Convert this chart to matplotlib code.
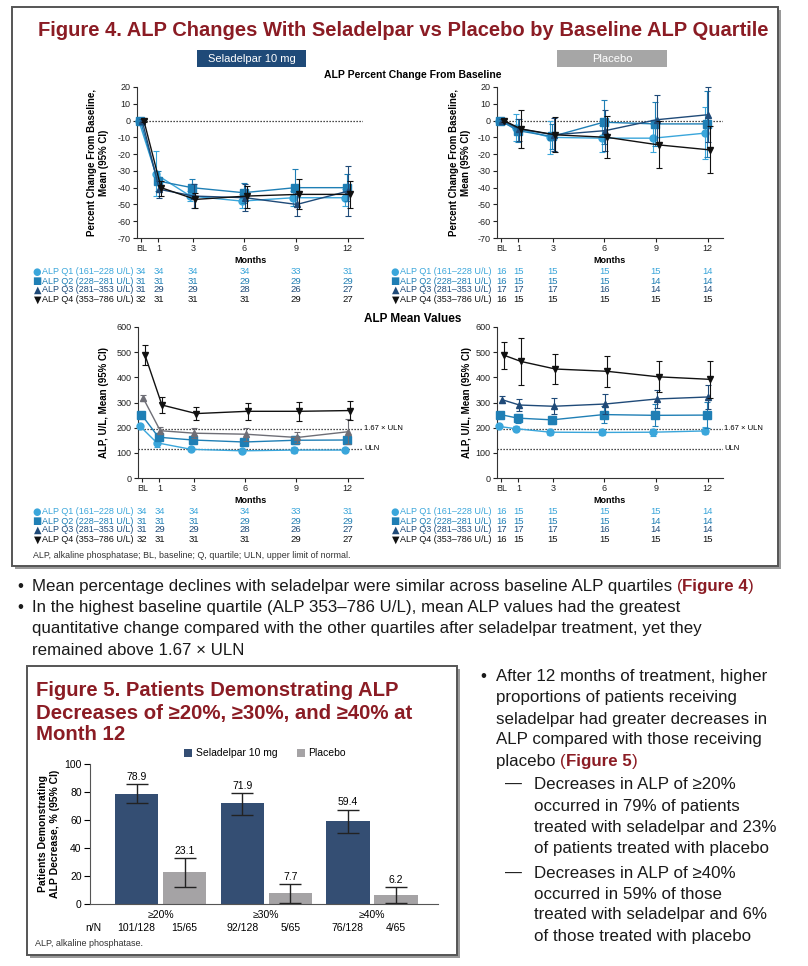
import numpy as np
import matplotlib
matplotlib.use('Agg')
import matplotlib.pyplot as plt
import matplotlib.transforms as mtrans
from matplotlib import font_manager
from matplotlib.patches import Rectangle

plt.rcParams['font.family'] = ['Liberation Sans', 'DejaVu Sans']
plt.rcParams['axes.unicode_minus'] = False

# ---------------- data ----------------
months = [0, 1, 3, 6, 9, 12]
month_labels = ['BL', '1', '3', '6', '9', '12']
quartiles = ['ALP Q1 (161–228 U/L)', 'ALP Q2 (228–281 U/L)',
             'ALP Q3 (281–353 U/L)', 'ALP Q4 (353–786 U/L)']
uln = 117

# seladelpar, percent change from baseline (mean, lower CI, upper CI)
sel_pct_mean = [[0, -32, -45, -48, -46, -46],
                [0, -36, -40, -43, -40, -40],
                [0, -41, -45, -46, -50, -42],
                [0, -40, -47, -45, -44, -44]]
sel_pct_lo = [[-1, -45, -48, -52, -51, -51],
              [-1, -42, -45, -49, -51, -48],
              [-1, -46, -52, -54, -57, -57],
              [-1, -45, -52, -52, -53, -52]]
sel_pct_hi = [[1, -18, -42, -44, -42, -41],
              [1, -30, -35, -37, -29, -32],
              [1, -36, -38, -38, -43, -27],
              [1, -36, -43, -39, -35, -36]]

# placebo, percent change from baseline
pbo_pct_mean = [[0, -4.5, -10, -10.5, -10.5, -7.5],
                [0, -6, -9.5, -1, -2, -2],
                [0, -5, -8.5, -6, 0.5, 3.5],
                [0, -5, -8.5, -10, -14.5, -17.5]]
pbo_pct_lo = [[-1, -12, -20, -18.5, -19, -23],
              [-1, -13, -17, -14, -15, -21.5],
              [-1, -12, -18, -18, -14, -13],
              [-1, -16.5, -19, -22.5, -28.5, -31.5]]
pbo_pct_hi = [[1, 4, 0, -2.5, -2, 8],
              [1, 1, -2, 12, 11, 17.5],
              [1, 1, 1.5, 6, 15, 20],
              [1, 6.5, 2, 2.5, 0, -3.5]]

# seladelpar, mean ALP (U/L)
sel_alp_mean = [[207, 140, 114, 108, 111, 111],
                [252, 162, 151, 143, 150, 151],
                [318, 188, 178, 174, 161, 184],
                [490, 290, 256, 265, 265, 268]]
sel_alp_lo = [[200, 125, 108, 103, 100, 102],
              [240, 152, 140, 130, 135, 138],
              [305, 175, 158, 148, 140, 134],
              [450, 258, 230, 230, 228, 230]]
sel_alp_hi = [[214, 155, 120, 113, 122, 120],
              [264, 172, 162, 156, 165, 164],
              [331, 201, 198, 200, 182, 234],
              [530, 322, 282, 300, 302, 306]]

# placebo, mean ALP (U/L)
pbo_alp_mean = [[205, 196, 182, 181, 182, 187],
                [252, 238, 231, 252, 249, 250],
                [311, 290, 285, 294, 314, 322],
                [488, 463, 433, 424, 402, 392]]
pbo_alp_lo = [[198, 186, 170, 170, 168, 173],
              [243, 220, 215, 218, 205, 198],
              [297, 267, 254, 254, 280, 276],
              [435, 370, 374, 362, 340, 316]]
pbo_alp_hi = [[212, 206, 194, 192, 196, 201],
              [261, 256, 247, 286, 293, 302],
              [325, 313, 316, 334, 348, 368],
              [541, 556, 492, 486, 464, 466]]

sel_n = [[34, 34, 34, 34, 33, 31],
         [31, 31, 31, 29, 29, 29],
         [31, 29, 29, 28, 26, 27],
         [32, 31, 31, 31, 29, 27]]
pbo_n = [[16, 15, 15, 15, 15, 14],
         [16, 15, 15, 15, 14, 14],
         [17, 17, 17, 16, 14, 14],
         [16, 15, 15, 15, 15, 15]]

# figure 5
thresholds = ['≥20%', '≥30%', '≥40%']
sel_resp = [78.9, 71.9, 59.4]
sel_resp_lo = [72, 63.5, 50.5]
sel_resp_hi = [86, 79.5, 67.5]
pbo_resp = [23.1, 7.7, 6.2]
pbo_resp_lo = [12.5, 1, 0.5]
pbo_resp_hi = [33, 14, 12]
sel_nN = ['101/128', '92/128', '76/128']
pbo_nN = ['15/65', '5/65', '4/65']

# ---------------- style ----------------
RED = '#8B1C24'
TXT = '#1a1a1a'
q_colors = ['#3AA6DB', '#1F7FB5', '#1F4A78', '#111111']
markers = ['o', 's', '^', 'v']
msizes = [5, 5.5, 5, 5]
syms = ['●', '■', '▲', '▼']
jitter = [-0.15, -0.05, 0.05, 0.15]

names = {f.name for f in font_manager.fontManager.ttflist}
narrow = 'Liberation Sans Narrow' if 'Liberation Sans Narrow' in names else 'Liberation Sans'

W, H = 808, 966
fig = plt.figure(figsize=(W / 100, H / 100), dpi=100)
bg = fig.add_axes([0, 0, 1, 1], zorder=0)
bg.set_xlim(0, W)
bg.set_ylim(H, 0)
bg.axis('off')
renderer = fig.canvas.get_renderer()


def px_axes(x0, y0, x1, y1):
    ax = fig.add_axes([x0 / W, 1 - y1 / H, (x1 - x0) / W, (y1 - y0) / H], zorder=2)
    ax.patch.set_alpha(0)
    return ax


def fit_text(x, y, s, width, size0=12, **kw):
    t = bg.text(x, y, s, fontsize=size0, **kw)
    w = t.get_window_extent(renderer).width
    t.set_fontsize(size0 * width / w)
    return t


def runs(x, y, parts, size):
    for s, color, weight in parts:
        t = bg.text(x, y, s, fontsize=size, color=color, fontweight=weight,
                    va='center_baseline')
        x += t.get_window_extent(renderer).width
    return x


def box(x0, y0, x1, y1):
    bg.add_patch(Rectangle((x0 + 3, y0 + 3), x1 - x0, y1 - y0, fc='#9a9a9a', ec='none'))
    bg.add_patch(Rectangle((x0, y0), x1 - x0, y1 - y0, fc='white', ec='#555555', lw=1.4))


def panel(rect, mean, lo, hi, colors, ylim, yticks, ylabel, ylabel_x):
    ax = px_axes(*rect)
    for i in range(4):
        m = np.array(mean[i], float)
        err = [m - np.array(lo[i]), np.array(hi[i]) - m]
        ax.errorbar(np.array(months) + jitter[i], m, yerr=err, color=colors[i],
                    marker=markers[i], ms=msizes[i], lw=1.0, elinewidth=0.8,
                    capsize=2, capthick=0.8, zorder=3 + i, clip_on=False)
    ax.set_xlim(-0.25, 12.9)
    ax.set_ylim(*ylim)
    ax.set_xticks(months)
    ax.set_xticklabels(month_labels)
    ax.set_yticks(yticks)
    for s in ['top', 'right']:
        ax.spines[s].set_visible(False)
    for s in ['left', 'bottom']:
        ax.spines[s].set_linewidth(0.8)
        ax.spines[s].set_color('#333333')
    ax.tick_params(labelsize=6.5, length=3, width=0.8, pad=1.5, colors='#222222')
    ax.set_xlabel('Months', fontsize=6.5, fontweight='bold', labelpad=2)
    bg.text(ylabel_x, (rect[1] + rect[3]) / 2, ylabel, rotation=90, ha='center',
            va='center', fontsize=7, fontweight='bold', linespacing=1.3,
            multialignment='center')
    return ax


def count_table(ax, counts, rows_y, label_right):
    tr = mtrans.blended_transform_factory(ax.transData, bg.transData)
    for i in range(4):
        t = bg.text(label_right, rows_y[i], quartiles[i], ha='right',
                    va='center', fontsize=6.5, color=q_colors[i])
        left = label_right - t.get_window_extent(renderer).width
        bg.text(left - 0.5, rows_y[i], syms[i], ha='right', va='center',
                fontsize=7, color=q_colors[i], family='DejaVu Sans')
        for m, c in zip(months, counts[i]):
            ax.text(m, rows_y[i], str(c), transform=tr, ha='center', va='center',
                    fontsize=6.8, color=q_colors[i], clip_on=False)


def ref_line(ax, y, label):
    ax.axhline(y, color='#111111', lw=0.9, ls=(0, (1, 1.4)), zorder=1)
    if label:
        tr = mtrans.blended_transform_factory(ax.transAxes, ax.transData)
        ax.text(1.005, y, label, transform=tr, fontsize=5.5, va='center',
                ha='left', clip_on=False)


# ---------------- Figure 4 ----------------
box(12, 7, 778, 566)
fit_text(403, 31, 'Figure 4. ALP Changes With Seladelpar vs Placebo by Baseline ALP Quartile',
         728, ha='center', va='center', color=RED, fontweight='bold', family=[narrow, 'DejaVu Sans'])

bg.add_patch(Rectangle((197, 50), 109, 17, fc='#1F4A78', ec='none'))
bg.text(251.5, 58.5, 'Seladelpar 10 mg', ha='center', va='center', color='white',
        fontsize=8)
bg.add_patch(Rectangle((557, 50), 110, 17, fc='#A6A6A6', ec='none'))
bg.text(612, 58.5, 'Placebo', ha='center', va='center', color='white',
        fontsize=8)

bg.text(413, 75, 'ALP Percent Change From Baseline', ha='center', va='center',
        fontsize=7.5, fontweight='bold')
bg.text(413, 319, 'ALP Mean Values', ha='center', va='center',
        fontsize=8.5, fontweight='bold')

pct_label = 'Percent Change From Baseline,\nMean (95% CI)'
alp_label = 'ALP, U/L, Mean (95% CI)'
pct_ticks = list(range(-70, 21, 10))
alp_ticks = list(range(0, 601, 100))

ax1 = panel((137, 87, 363, 238), sel_pct_mean, sel_pct_lo, sel_pct_hi, q_colors,
            (-70, 20), pct_ticks, pct_label, 98)
ref_line(ax1, 0, None)
count_table(ax1, sel_n, [272, 281, 290, 300], 133)

ax2 = panel((497, 87, 723, 238), pbo_pct_mean, pbo_pct_lo, pbo_pct_hi, q_colors,
            (-70, 20), pct_ticks, pct_label, 460)
ref_line(ax2, 0, None)
count_table(ax2, pbo_n, [272, 281, 290, 300], 491)

mid_colors = [q_colors[0], q_colors[1], '#6E6E76', q_colors[3]]
ax3 = panel((138, 327, 363, 478), sel_alp_mean, sel_alp_lo, sel_alp_hi, mid_colors,
            (0, 600), alp_ticks, alp_label, 104)
ref_line(ax3, 1.67 * uln, '1.67 × ULN')
ref_line(ax3, uln, 'ULN')
count_table(ax3, sel_n, [512, 521, 530, 540], 133)

ax4 = panel((497, 327, 723, 478), pbo_alp_mean, pbo_alp_lo, pbo_alp_hi, q_colors,
            (0, 600), alp_ticks, alp_label, 467)
ref_line(ax4, 1.67 * uln, '1.67 × ULN')
ref_line(ax4, uln, 'ULN')
count_table(ax4, pbo_n, [512, 521, 530, 540], 491)

fit_text(33, 556, 'ALP, alkaline phosphatase; BL, baseline; Q, quartile; ULN, upper limit of normal.',
         320, size0=6, va='center', color='#333333')

# ---------------- bullets ----------------
FS = 12.2
bg.text(17, 585, '•', fontsize=FS, va='center_baseline', color=TXT)
runs(32, 585, [('Mean percentage declines with seladelpar were similar across baseline ALP quartiles ', TXT, 'normal'),
               ('(', RED, 'normal'), ('Figure 4', RED, 'bold'), (')', RED, 'normal')], FS)
bg.text(17, 606, '•', fontsize=FS, va='center_baseline', color=TXT)
runs(32, 606, [('In the highest baseline quartile (ALP 353–786 U/L), mean ALP values had the greatest', TXT, 'normal')], FS)
runs(32, 627, [('quantitative change compared with the other quartiles after seladelpar treatment, yet they', TXT, 'normal')], FS)
runs(32, 649, [('remained above 1.67 × ULN', TXT, 'normal')], FS)

right_lines = [
    (496, 675, [('After 12 months of treatment, higher', TXT, 'normal')]),
    (496, 696, [('proportions of patients receiving', TXT, 'normal')]),
    (496, 718, [('seladelpar had greater decreases in', TXT, 'normal')]),
    (496, 738, [('ALP compared with those receiving', TXT, 'normal')]),
    (496, 760, [('placebo ', TXT, 'normal'), ('(', RED, 'normal'), ('Figure 5', RED, 'bold'), (')', RED, 'normal')]),
    (534, 783, [('Decreases in ALP of ≥20%', TXT, 'normal')]),
    (534, 805, [('occurred in 79% of patients', TXT, 'normal')]),
    (534, 826, [('treated with seladelpar and 23%', TXT, 'normal')]),
    (534, 847, [('of patients treated with placebo', TXT, 'normal')]),
    (534, 872, [('Decreases in ALP of ≥40%', TXT, 'normal')]),
    (534, 893, [('occurred in 59% of those', TXT, 'normal')]),
    (534, 913, [('treated with seladelpar and 6%', TXT, 'normal')]),
    (534, 935, [('of those treated with placebo', TXT, 'normal')]),
]
bg.text(480, 675, '•', fontsize=FS, va='center_baseline', color=TXT)
bg.text(505, 783, '—', fontsize=FS, va='center_baseline', color=TXT)
bg.text(505, 872, '—', fontsize=FS, va='center_baseline', color=TXT)
for x, y, parts in right_lines:
    runs(x, y, parts, FS)

# ---------------- Figure 5 ----------------
box(27, 666, 457, 955)
fit_text(36, 691, 'Figure 5. Patients Demonstrating ALP', 362, va='center',
         color=RED, fontweight='bold')
fit_text(36, 713, 'Decreases of ≥20%, ≥30%, and ≥40% at', 375, va='center',
         color=RED, fontweight='bold')
bg.text(36, 735, 'Month 12', va='center', color=RED, fontweight='bold',
        fontsize=bg.texts[-1].get_fontsize())

SEL_C = '#344E73'
PBO_C = '#A5A3A5'
bg.add_patch(Rectangle((184, 749), 8, 8, fc=SEL_C, ec='none'))
bg.text(196, 753, 'Seladelpar 10 mg', va='center', fontsize=7.5)
bg.add_patch(Rectangle((297, 749), 8, 8, fc=PBO_C, ec='none'))
bg.text(308, 753, 'Placebo', va='center', fontsize=7.5)

bx = px_axes(90, 764, 438, 904)
xg = np.arange(len(thresholds))
sel = np.array(sel_resp)
pbo = np.array(pbo_resp)
ekw = dict(elinewidth=1.0, capthick=1.0, ecolor='#222222')
bx.bar(xg - 0.227, sel, 0.41, color=SEL_C,
       yerr=[sel - np.array(sel_resp_lo), np.array(sel_resp_hi) - sel],
       capsize=8, error_kw=ekw)
bx.bar(xg + 0.227, pbo, 0.41, color=PBO_C,
       yerr=[pbo - np.array(pbo_resp_lo), np.array(pbo_resp_hi) - pbo],
       capsize=8, error_kw=ekw)
for i in range(len(thresholds)):
    bx.text(xg[i] - 0.227, sel_resp_hi[i] + 1.5, f'{sel_resp[i]:.1f}', ha='center',
            va='bottom', fontsize=7.5)
    bx.text(xg[i] + 0.227, pbo_resp_hi[i] + 1.5, f'{pbo_resp[i]:.1f}', ha='center',
            va='bottom', fontsize=7.5)
bx.set_xlim(-0.667, 2.625)
bx.set_ylim(0, 100)
bx.set_yticks(range(0, 101, 20))
bx.set_xticks([])
for s in ['top', 'right']:
    bx.spines[s].set_visible(False)
for s in ['left', 'bottom']:
    bx.spines[s].set_linewidth(0.8)
    bx.spines[s].set_color('#555555')
bx.tick_params(labelsize=7.5, length=4, width=0.8, pad=2)

tr5 = mtrans.blended_transform_factory(bx.transData, bg.transData)
for i, lab in enumerate(thresholds):
    bx.text(xg[i], 915, lab, transform=tr5, ha='center', va='center', fontsize=7.5, clip_on=False)
    bx.text(xg[i] - 0.227, 928, sel_nN[i], transform=tr5, ha='center', va='center', fontsize=7.5, clip_on=False)
    bx.text(xg[i] + 0.227, 928, pbo_nN[i], transform=tr5, ha='center', va='center', fontsize=7.5, clip_on=False)
bg.text(93, 928, 'n/N', ha='center', va='center', fontsize=7.5)
bg.text(49, 834, 'Patients Demonstrating\nALP Decrease, % (95% CI)', rotation=90,
        ha='center', va='center', fontsize=7.5, fontweight='bold', linespacing=1.2,
        multialignment='center')
bg.text(35, 944, 'ALP, alkaline phosphatase.', va='center', fontsize=6.5, color='#333333')

fig.savefig('out.png', dpi=100)
